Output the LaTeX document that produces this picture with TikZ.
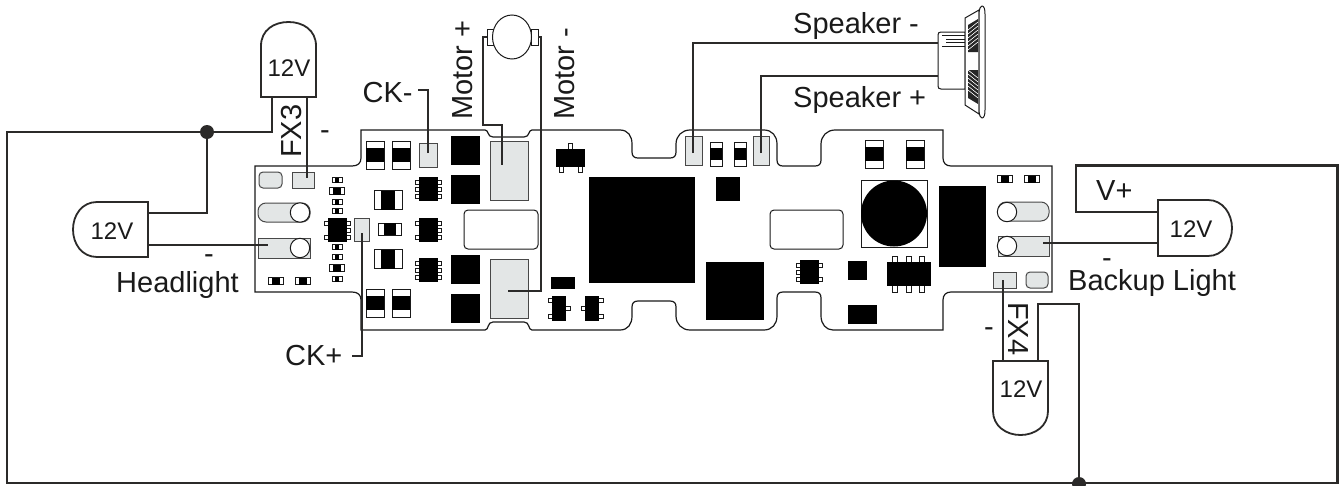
\documentclass[tikz,border=0pt]{standalone}
\usepackage{fontspec}
\setmainfont{Liberation Sans}
\definecolor{padgray}{HTML}{E3E6E6}
\definecolor{wirecol}{HTML}{2B2A29}
\definecolor{ink}{HTML}{1A1A1A}
\tikzset{
  board/.style={draw=ink,line width=1.2pt,fill=white},
  wire/.style={draw=wirecol,line width=2.7pt,line join=miter},
  thinwire/.style={draw=wirecol,line width=2pt,line join=miter},
  pad/.style={draw=ink!80,line width=1pt,fill=padgray},
  part/.style={draw=ink,line width=1pt,fill=white},
  lamp/.style={draw=wirecol,line width=1.8pt,fill=white},
  big/.style={inner sep=0pt,font=\fontsize{29}{29}\selectfont,text=ink},
  small/.style={inner sep=0pt,font=\fontsize{24}{24}\selectfont,text=ink},
  dot/.style={fill=wirecol,draw=none},
}
\newcommand{\capV}[4]{%
  \draw[part] ({#1-#3/2},{#2-#4/2}) rectangle ({#1+#3/2},{#2+#4/2});
  \fill[black] ({#1-#3/2},{#2-#4*0.24}) rectangle ({#1+#3/2},{#2+#4*0.24});}
\newcommand{\capH}[4]{%
  \draw[part] ({#1-#3/2},{#2-#4/2}) rectangle ({#1+#3/2},{#2+#4/2});
  \fill[black] ({#1-#3*0.24},{#2-#4/2}) rectangle ({#1+#3*0.24},{#2+#4/2});}
\newcommand{\icchip}[4]{%
  \foreach \py in {#3} \draw[part,line width=.8pt] ({#1-13},{#2+\py-2}) rectangle ({#1-8},{#2+\py+2});
  \foreach \py in {#4} \draw[part,line width=.8pt] ({#1+8},{#2+\py-2}) rectangle ({#1+13},{#2+\py+2});
  \fill[black] ({#1-9.5},{#2-12}) rectangle ({#1+9.5},{#2+12});}
\newcommand{\blk}[4]{\fill[black] (#1,#2) rectangle (#3,#4);}
\begin{document}
\begin{tikzpicture}[x=1pt,y=-1pt]
\useasboundingbox (0,0) rectangle (1341,485);
% board
\draw[board] (255,166) -- (352,166) .. controls (358,166) and (361,163) .. (361,158) -- (361,130)
 -- (485,130) .. controls (489,130) and (487,137) .. (493,137) -- (524,137) .. controls (530,137) and (528,130) .. (532,130)
 -- (620,130) .. controls (628,130) and (632,136) .. (632,144) -- (632,152) .. controls (632,156) and (634,158) .. (638,158)
 -- (670,158) .. controls (674,158) and (676,156) .. (676,152) -- (676,144) .. controls (676,136) and (682,130) .. (690,130)
 -- (764,130) .. controls (772,130) and (777,136) .. (777,144) -- (777,160) .. controls (777,164) and (779,166) .. (783,166)
 -- (815,166) .. controls (819,166) and (821,164) .. (821,160) -- (821,144) .. controls (821,136) and (827,130) .. (835,130)
 -- (943,130) -- (943,158) .. controls (943,163) and (946,166) .. (951,166) -- (1052,166) -- (1052,292)
 -- (951,292) .. controls (946,292) and (943,295) .. (943,300) -- (943,330) -- (833,330) .. controls (826,330) and (821,324) .. (821,316)
 -- (821,298) .. controls (821,294) and (819,292) .. (815,292) -- (783,292) .. controls (779,292) and (777,294) .. (777,298)
 -- (777,316) .. controls (777,324) and (772,330) .. (764,330) -- (690,330) .. controls (682,330) and (676,324) .. (676,316)
 -- (676,307) .. controls (676,303) and (674,301) .. (670,301) -- (638,301) .. controls (634,301) and (632,303) .. (632,307)
 -- (632,316) .. controls (632,324) and (628,330) .. (620,330) -- (532,330) .. controls (528,330) and (530,322) .. (524,322)
 -- (493,322) .. controls (487,322) and (489,330) .. (485,330) -- (361,330) -- (361,300) .. controls (361,295) and (358,292) .. (352,292)
 -- (255,292) -- cycle;
\draw[part,fill=white,rounded corners=4pt] (464,210) rectangle (538,249);
\draw[part,fill=white,rounded corners=4pt] (770,210) rectangle (843,249);
% left pads
\draw[pad,rounded corners=4pt] (259,172) rectangle (282,188);
\draw[pad] (292,172) rectangle (314,188);
\draw[pad,rounded corners=8pt] (258,203) rectangle (310,222);
\draw[part] (300,212.5) circle (9.7);
\draw[pad] (258,238) rectangle (310,258);
\draw[part] (300,248) circle (9.7);
% tiny parts left
\capH{337}{180}{10}{5}
\capH{337}{191}{15}{7}
\capH{337}{202}{10}{5}
\capH{337}{211}{10}{5}
\capH{337}{247}{10}{5}
\capH{337}{257}{10}{5}
\capH{337}{268}{15}{7}
\capH{337}{279}{10}{5}
\capH{276}{281}{15}{7}
\capH{303}{281}{15}{7}
\icchip{337}{230}{-7,7}{-7,0,7}
% CK pads and caps
\draw[pad] (354,218) rectangle (369,241);
\draw[pad] (419,143) rectangle (437,167);
\capV{375}{155}{18}{28}
\capV{401}{155}{18}{28}
\capV{375}{303}{18}{28}
\capV{401}{303}{18}{28}
\capH{388}{200}{28}{19}
\capH{390}{229}{23}{12}
\capH{388}{259}{28}{19}
\icchip{428}{189}{-7,0,7}{-7,0,7}
\icchip{428}{230}{-7,7}{-7,0,7}
\icchip{428}{270}{-7,0,7}{-7,0,7}
% black squares
\blk{451}{136}{480}{165}
\blk{451}{175}{480}{204}
\blk{451}{255}{480}{284}
\blk{451}{294}{480}{323}
% motor pads
\draw[pad] (490,141) rectangle (528,200);
\draw[pad] (490,259) rectangle (528,318);
% centre parts
\draw[part] (568,143) rectangle (572,150);
\draw[part] (559,166) rectangle (563,172);
\draw[part] (578,166) rectangle (582,172);
\blk{556}{149}{585}{167}
\blk{589}{177}{695}{283}
\blk{716}{177}{740}{201}
\blk{706}{262}{764}{320}
\blk{551}{277}{575}{289}
\draw[part] (548,298) rectangle (556,302);
\draw[part] (548,314) rectangle (556,318);
\draw[part] (562,306) rectangle (570,310);
\blk{552}{296}{566}{321}
\draw[part] (595,298) rectangle (603,302);
\draw[part] (595,314) rectangle (603,318);
\draw[part] (581,306) rectangle (589,310);
\blk{585}{296}{599}{321}
% speaker pads
\draw[pad] (685,136) rectangle (702,165);
\draw[pad] (753,136) rectangle (769,165);
\capV{716}{154}{12}{24}
\capV{740}{154}{12}{24}
% right parts
\capV{874}{154}{18}{28}
\capV{915}{154}{18}{28}
\draw[part] (861,180) rectangle (927,247);
\fill[black] (894,213.5) circle (33);
\blk{939}{186}{986}{267}
\capH{1005}{179}{15}{7}
\capH{1032}{179}{15}{7}
\draw[pad,rounded corners=8pt] (998,202) rectangle (1049,221);
\draw[part] (1007,212) circle (9.7);
\draw[pad] (998,236) rectangle (1049,256);
\draw[part] (1007,246) circle (9.7);
\draw[pad] (993,272) rectangle (1016,288);
\draw[pad,rounded corners=4pt] (1026,272) rectangle (1048,288);
\foreach \px in {895,909,922} \draw[part] ({\px-2.5},256) rectangle ({\px+2.5},292);
\blk{887}{262}{931}{286}
\blk{848}{261}{867}{280}
\blk{848}{305}{877}{324}
\icchip{809}{272}{-7,0,7}{-7,7}
% motor
\draw[part] (487,29) rectangle (494,45);
\draw[part] (531,29) rectangle (538,45);
\draw[part] (512,37) ellipse (19.5 and 22);
% speaker
\draw[part] (941,32) -- (965,32) -- (965,89) -- (941,89) .. controls (939,89) and (938,88) .. (938,86) -- (938,35) .. controls (938,33) and (939,32) .. (941,32) -- cycle;
\draw[part,line width=.8pt] (942,35) -- (965,35) (946,39) -- (965,39) (946,42) -- (965,42) (942,46) -- (965,46);
\draw[part] (965,18) -- (979,10) -- (979,114) -- (965,105) -- cycle;
\draw[part] (979,14) .. controls (979,8) and (981,6) .. (982,6) .. controls (984,6) and (985,9) .. (985,14) -- (985,110) .. controls (985,115) and (984,118) .. (982,118) .. controls (981,118) and (979,116) .. (979,110) -- cycle;
\begin{scope}
 \clip (968,25) -- (978,19) -- (978,52) -- (968,52) -- cycle;
 \fill[black!85] (966,17) rectangle (980,54);
 \foreach \d in {0,4,8,12,16,20} \draw[white,line width=.6pt] (968,{30+\d}) -- (978,{22+\d});
\end{scope}
\begin{scope}
 \clip (968,70) -- (978,70) -- (978,104) -- (968,98) -- cycle;
 \fill[black!85] (966,68) rectangle (980,106);
 \foreach \d in {0,4,8,12,16,20} \draw[white,line width=.6pt] (968,{70+\d}) -- (978,{78+\d});
\end{scope}
% lamps
\draw[lamp] (261,97) -- (261,46) .. controls (261,30) and (274,22) .. (288.5,22) .. controls (303,22) and (316,30) .. (316,46) -- (316,97) -- cycle;
\draw[lamp] (148,202) -- (97,202) .. controls (82,202) and (73,215) .. (73,229.5) .. controls (73,244) and (82,257) .. (97,257) -- (148,257) -- cycle;
\draw[lamp] (1158,200) -- (1208,200) .. controls (1223,200) and (1232,214) .. (1232,228) .. controls (1232,242) and (1223,256) .. (1208,256) -- (1158,256) -- cycle;
\draw[lamp] (993,361) -- (993,411) .. controls (993,426) and (1006,435) .. (1020.5,435) .. controls (1035,435) and (1048,426) .. (1048,411) -- (1048,361) -- cycle;
% named wire ends
\coordinate (j1) at (207,132);
\coordinate (j2) at (1079,484);
\coordinate (fxa) at (272,97);
\coordinate (fxb) at (307,97);
\coordinate (fxp) at (307,178);
\coordinate (hla) at (148,213);
\coordinate (hlb) at (148,245);
\coordinate (hlp) at (268,245);
\coordinate (bla) at (1158,212);
\coordinate (blb) at (1158,243);
\coordinate (blp) at (1043,243);
\coordinate (fya) at (1003,361);
\coordinate (fyp) at (1003,280);
\coordinate (fyb) at (1038,361);
\coordinate (ckmp) at (428,153);
\coordinate (ckme) at (418,89.5);
\coordinate (ckpp) at (362,233);
\coordinate (ckpe) at (352,356);
\coordinate (mla) at (487,37);
\coordinate (mlp) at (502,165);
\coordinate (mra) at (538,37);
\coordinate (mrp) at (508,291);
\coordinate (spa) at (938,43);
\coordinate (spap) at (693,153);
\coordinate (spb) at (938,76);
\coordinate (spbp) at (761,153);
% wires
\draw[wire] (fxa) |- (7,132) -- (7,483) -- (1337.5,483) -- (1337.5,165.7) -- (1076,165.7) -- (1076,212) -- (bla);
\draw[wire] (j1) |- (hla);
\draw[wire] (hlb) -- (hlp);
\draw[wire] (fxb) -- (fxp);
\draw[thinwire] (blb) -- (blp);
\draw[thinwire] (fya) -- (fyp);
\draw[thinwire] (fyb) |- (1079,304) -- (j2);
\draw[thinwire] (ckmp) |- (ckme);
\draw[thinwire] (ckpp) |- (ckpe);
\draw[wire] (mla) -- (483,37) -- (483,125) -- (502,125) -- (mlp);
\draw[wire] (mra) -- (541,37) -- (541,291) -- (mrp);
\draw[wire] (spap) |- (spa);
\draw[wire] (spbp) |- (spb);
\fill[dot] (j1) circle (7);
\fill[dot] (j2) circle (7);
% labels
\node[small] (l1) at (289,68) {12V};
\node[small] (l2) at (112,231) {12V};
\node[small] (l3) at (1191,229) {12V};
\node[small] (l4) at (1021,389) {12V};
\node[big,rotate=90,anchor=base west] (fx3) at (301,158) {FX3};
\node[big,rotate=-90,anchor=base west] (fx4) at (1008,302) {FX4};
\node[big,rotate=90,anchor=base west] (mp) at (472,120) {Motor +};
\node[big,rotate=90,anchor=base west] (mm) at (574,120) {Motor -};
\node[big,anchor=base west] (cm) at (362.5,102) {CK-};
\node[big,anchor=base west] (cp) at (285,365) {CK+};
\node[big,anchor=base west] (sm) at (793,33) {Speaker -};
\node[big,anchor=base west] (sp) at (793,107) {Speaker +};
\node[big,anchor=base west] (hl) at (116,292) {Headlight};
\node[big,anchor=base west] (bl) at (1068,290) {Backup Light};
\node[big,anchor=base west] (vp) at (1096,200) {V+};
\node[big] (d1) at (325,135) {-};
\node[big] (d2) at (209,259) {-};
\node[big] (d3) at (1107,263.5) {-};
\node[big] (d4) at (989,332) {-};
\end{tikzpicture}
\end{document}
